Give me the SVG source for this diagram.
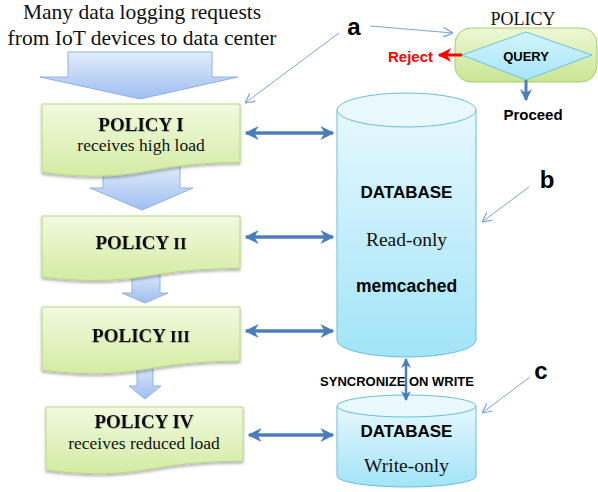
<svg xmlns="http://www.w3.org/2000/svg" width="598" height="492" viewBox="0 0 598 492">
  <defs>
    <linearGradient id="gBox" x1="0" y1="0" x2="0" y2="1">
      <stop offset="0" stop-color="#f2fadf"/>
      <stop offset="1" stop-color="#d3eca4"/>
    </linearGradient>
    <linearGradient id="gPolicy" x1="0" y1="0" x2="0" y2="1">
      <stop offset="0" stop-color="#eef8d6"/>
      <stop offset="1" stop-color="#c9e592"/>
    </linearGradient>
    <linearGradient id="gFlow" x1="0" y1="0" x2="0" y2="1">
      <stop offset="0" stop-color="#e2edfb"/>
      <stop offset="1" stop-color="#9fbef0"/>
    </linearGradient>
    <linearGradient id="gCyl" x1="0" y1="0" x2="0" y2="1">
      <stop offset="0" stop-color="#e6f8fe"/>
      <stop offset="1" stop-color="#a2e4f8"/>
    </linearGradient>
    <linearGradient id="gDiamond" x1="0" y1="0" x2="0" y2="1">
      <stop offset="0" stop-color="#d3f4fd"/>
      <stop offset="1" stop-color="#a6e5f8"/>
    </linearGradient>
    <filter id="shadow" x="-10%" y="-10%" width="120%" height="130%">
      <feDropShadow dx="0" dy="2" stdDeviation="1.5" flood-color="#000" flood-opacity="0.3"/>
    </filter>
    <filter id="textShadow" x="-5%" y="-20%" width="110%" height="150%">
      <feDropShadow dx="0.5" dy="1" stdDeviation="0.6" flood-color="#000" flood-opacity="0.25"/>
    </filter>
    <marker id="hBlue" viewBox="0 0 10 10" refX="9" refY="5" markerWidth="4" markerHeight="4" orient="auto-start-reverse">
      <path d="M0,0 L10,5 L0,10 L3,5 Z" fill="#4a7ebb"/>
    </marker>
    <marker id="hRed" viewBox="0 0 10 10" refX="9" refY="5" markerWidth="4.5" markerHeight="4.5" orient="auto">
      <path d="M0,0 L10,5 L0,10 L3,5 Z" fill="#ff0000"/>
    </marker>
    <marker id="hThin" viewBox="0 0 10 10" refX="10" refY="5" markerWidth="10" markerHeight="10" markerUnits="userSpaceOnUse" orient="auto">
      <path d="M0,0 L10,5 L0,10" fill="none" stroke="#7ea3d7" stroke-width="1.2"/>
    </marker>
    <style>
      .serif { font-family: "Liberation Serif", "Times New Roman", serif; fill: #111; }
      .sans { font-family: "Liberation Sans", Arial, sans-serif; font-weight: bold; fill: #000; }
      .title { font-size: 19px; font-weight: bold; filter: url(#textShadow); }
      .sub { font-size: 17.5px; }
      .box { fill: url(#gBox); stroke: #b9d884; stroke-width: 1; filter: url(#shadow); }
      .flow { fill: url(#gFlow); stroke: #8fb1e2; stroke-width: 1; }
      .cyl { fill: url(#gCyl); stroke: #66c0dc; stroke-width: 1; }
      .cylTop { fill: #eaf9fe; stroke: #66c0dc; stroke-width: 1; }
      .link { stroke: #4a7ebb; stroke-width: 3.5; fill: none; }
      .leader { stroke: #7ea3d7; stroke-width: 1; fill: none; }
      .tag { font-size: 24px; }
    </style>
  </defs>

  <!-- incoming request label -->
  <g id="requests">
    <text class="serif" x="142" y="19" font-size="21.5" text-anchor="middle">Many data logging requests</text>
    <text class="serif" x="142" y="45" font-size="21.5" text-anchor="middle">from IoT devices to data center</text>
  </g>

  <!-- flow arrows between policy stages -->
  <g id="flow-arrows">
    <path class="flow" d="M68,52 H212 V77 H238 L140,99 L40,77 H68 Z"/>
    <path class="flow" d="M103,165 H180 V188 H193 L142,210 L90,188 H103 Z"/>
    <path class="flow" d="M132,270 H160 V293 H168 L145,303 L122,293 H132 Z"/>
    <path class="flow" d="M137,362 H153 V386 H161 L145,399 L129,386 H137 Z"/>
  </g>

  <!-- policy stages -->
  <g id="policy-1">
    <path class="box" d="M42,104 H240 V162.5 C141,162.5 141,184.9 42,172.2 Z"/>
    <text class="serif title" x="141" y="131" text-anchor="middle">POLICY I</text>
    <text class="serif sub" x="141" y="151" text-anchor="middle">receives high load</text>
  </g>
  <g id="policy-2">
    <path class="box" d="M42,216 H240 V268.4 C141,268.4 141,288.3 42,277 Z"/>
    <text class="serif title" x="141" y="249" text-anchor="middle">POLICY <tspan font-size="17">II</tspan></text>
  </g>
  <g id="policy-3">
    <path class="box" d="M42,307 H240 V361.1 C141,361.1 141,381.8 42,370 Z"/>
    <text class="serif title" x="141" y="342" text-anchor="middle">POLICY <tspan font-size="17">III</tspan></text>
  </g>
  <g id="policy-4">
    <path class="box" d="M46,407 H243 V461.1 C144.5,461.1 144.5,481.8 46,470 Z"/>
    <text class="serif title" x="144" y="428" text-anchor="middle">POLICY IV</text>
    <text class="serif sub" x="144" y="449" text-anchor="middle">receives reduced load</text>
  </g>

  <!-- read-only cache database -->
  <g id="db-read">
    <path class="cyl" d="M337,110 V340 A69.5,17 0 0 0 476,340 V110 Z"/>
    <ellipse class="cylTop" cx="406.5" cy="110" rx="69.5" ry="17"/>
    <text class="sans" x="406.5" y="198" font-size="17" text-anchor="middle">DATABASE</text>
    <text class="serif" x="406.5" y="246" font-size="19.5" text-anchor="middle">Read-only</text>
    <text class="sans" x="406.5" y="292" font-size="17.5" text-anchor="middle">memcached</text>
  </g>

  <!-- write-only database -->
  <g id="db-write">
    <path class="cyl" d="M337,406 V476 A69.5,11 0 0 0 476,476 V406 Z"/>
    <ellipse class="cylTop" cx="406.5" cy="406" rx="69.5" ry="11"/>
    <text class="sans" x="406.5" y="437" font-size="17" text-anchor="middle">DATABASE</text>
    <text class="serif" x="406.5" y="472" font-size="19.5" text-anchor="middle">Write-only</text>
  </g>

  <!-- policy decision legend -->
  <g id="policy-legend">
    <text class="serif" x="523" y="25" font-size="18" text-anchor="middle">POLICY</text>
    <rect x="455" y="28" width="142" height="54" rx="16" fill="url(#gPolicy)" stroke="#a9cc6c" stroke-width="1"/>
    <polygon points="462,55 526,32 592,55 526,80" fill="url(#gDiamond)" stroke="#6cc4de" stroke-width="1"/>
    <text class="sans" x="526" y="61" font-size="13" text-anchor="middle">QUERY</text>
    <text class="sans" x="433" y="62" font-size="15" style="fill:#ff0000" text-anchor="end">Reject</text>
    <text class="sans" x="533" y="120" font-size="15" text-anchor="middle">Proceed</text>
  </g>

  <!-- connectors -->
  <g id="connectors">
    <line x1="246" y1="133" x2="333" y2="133" class="link" marker-start="url(#hBlue)" marker-end="url(#hBlue)"/>
    <line x1="246" y1="237" x2="333" y2="237" class="link" marker-start="url(#hBlue)" marker-end="url(#hBlue)"/>
    <line x1="246" y1="331" x2="333" y2="331" class="link" marker-start="url(#hBlue)" marker-end="url(#hBlue)"/>
    <line x1="249" y1="435" x2="333" y2="435" class="link" marker-start="url(#hBlue)" marker-end="url(#hBlue)"/>
    <line x1="406" y1="359" x2="406" y2="400" stroke="#4a7ebb" stroke-width="2.5" marker-start="url(#hBlue)" marker-end="url(#hBlue)"/>
    <line x1="462" y1="55" x2="439" y2="55" stroke="#ff0000" stroke-width="3" marker-end="url(#hRed)"/>
    <line x1="526" y1="80" x2="526" y2="100" stroke="#4a7ebb" stroke-width="3" marker-end="url(#hBlue)"/>
    <text class="sans" x="397" y="386" font-size="13" text-anchor="middle">SYNCRONIZE ON WRITE</text>
  </g>

  <!-- callout letters -->
  <g id="callouts">
    <text class="sans tag" x="354" y="35" text-anchor="middle">a</text>
    <text class="sans tag" x="547" y="188" text-anchor="middle">b</text>
    <text class="sans tag" x="541" y="379" text-anchor="middle">c</text>
    <line class="leader" x1="339" y1="33" x2="245" y2="103" marker-end="url(#hThin)"/>
    <line class="leader" x1="370" y1="26" x2="453" y2="33" marker-end="url(#hThin)"/>
    <line class="leader" x1="529" y1="187" x2="482" y2="222" marker-end="url(#hThin)"/>
    <line class="leader" x1="530" y1="377" x2="482" y2="413" marker-end="url(#hThin)"/>
  </g>
</svg>
